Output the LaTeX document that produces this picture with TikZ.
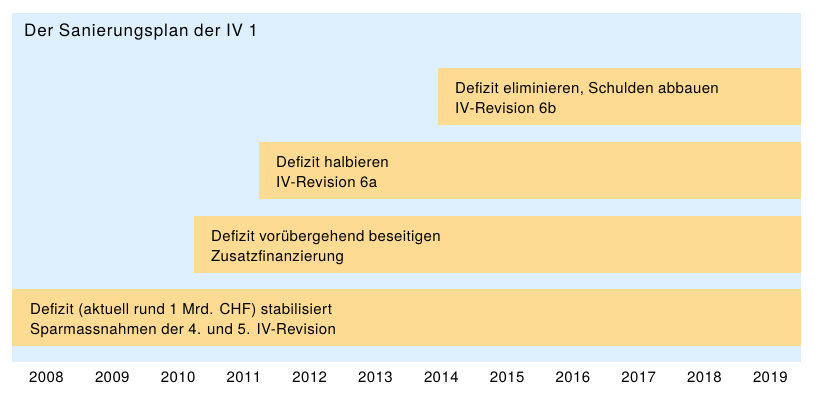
\documentclass[tikz,border=0pt]{standalone}
\usepackage{fontspec}
\setmainfont{TeX Gyre Heros}
\usetikzlibrary{positioning}
\definecolor{planblue}{RGB}{222,240,254}
\definecolor{planorange}{RGB}{254,219,146}

\begin{document}
\begin{tikzpicture}[x=1pt,y=-1pt]
	\tikzstyle{panel}=[fill=planblue]
	\tikzstyle{bar}=[fill=planorange,draw=none,inner sep=0pt,anchor=north west,minimum height=57pt]
	\tikzstyle{bartext}=[anchor=base west,align=left,inner sep=0pt,font=\addfontfeature{LetterSpace=2.5}\fontsize{15}{20}\selectfont]
	\tikzstyle{yearlabel}=[anchor=base,inner sep=0pt,font=\addfontfeature{LetterSpace=2.7}\fontsize{15}{18}\selectfont]
	
	\useasboundingbox (0,0) rectangle (815,397);
	\fill[panel] (12,13) rectangle (801,362);
	\node[anchor=base west,inner sep=0pt,font=\addfontfeature{LetterSpace=5.2}\fontsize{17}{20}\selectfont] (title) at (24,36) {Der Sanierungsplan der IV 1};
	
	\node[bar,minimum width=789pt] (bar1) at (12,289) {};
	\node[bar,minimum width=607pt] (bar2) at (194,216) {};
	\node[bar,minimum width=542pt] (bar3) at (259,142) {};
	\node[bar,minimum width=363pt] (bar4) at (438,68) {};
	
	% anchor base = baseline of the second line
	\node[bartext] (text1) at ([xshift=18pt,yshift=-45pt]bar1.north west) {Defizit (aktuell rund 1 Mrd. CHF) stabilisiert\\Sparmassnahmen der 4. und 5. IV-Revision};
	\node[bartext] (text2) at ([xshift=17pt,yshift=-45pt]bar2.north west) {Defizit vorübergehend beseitigen\\Zusatzfinanzierung};
	\node[bartext] (text3) at ([xshift=17pt,yshift=-45pt]bar3.north west) {Defizit halbieren\\IV-Revision 6a};
	\node[bartext] (text4) at ([xshift=17pt,yshift=-45pt]bar4.north west) {Defizit eliminieren, Schulden abbauen\\IV-Revision 6b};
	
	\foreach \yr [count=\i from 0] in {2008,...,2019}
		\node[yearlabel] (y\yr) at (46.5+65.8*\i,382) {\yr};
\end{tikzpicture}
\end{document}
